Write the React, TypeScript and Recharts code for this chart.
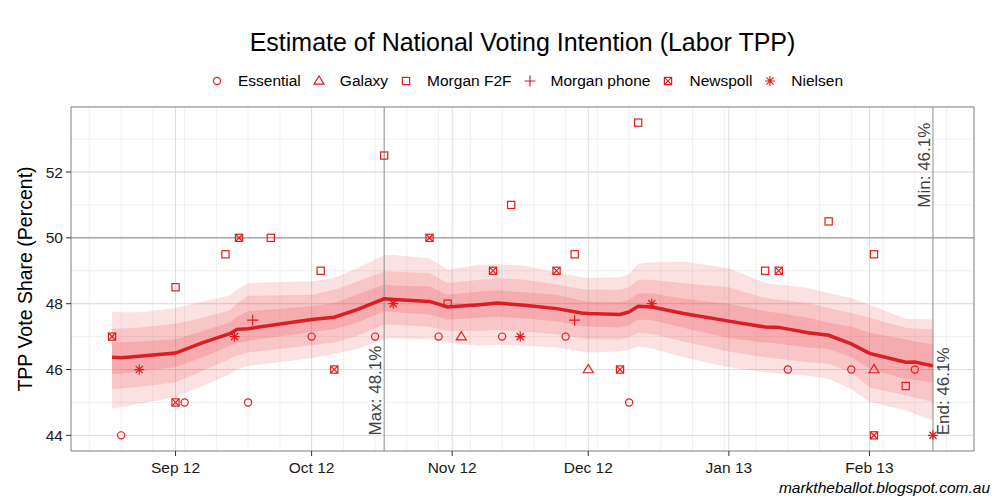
import React from "react";
import {
  Area,
  CartesianGrid,
  ComposedChart,
  Line,
  ReferenceArea,
  ReferenceLine,
  Scatter,
  XAxis,
  YAxis,
} from "recharts";

const FONT = '"Liberation Sans", Arial, Helvetica, sans-serif';
const RED = "#e41a1c";
const LINE_RED = "#d91e25";

// x values are days from 1 Sep 2012
const monthTicks = [0, 30, 61, 91, 122, 153];
const monthLabels = ["Sep 12", "Oct 12", "Nov 12", "Dec 12", "Jan 13", "Feb 13"];
const yTicks = [44, 46, 48, 50, 52];

// trend estimate and its three credible bands
const trendDay = [-14, -12, -8, 0, 6, 12, 13.5, 16, 30, 35, 40, 46, 48, 56, 60, 67, 71, 77, 84, 89.5, 91, 98, 100, 102, 105, 112, 122, 130, 133, 139.5, 144, 149, 153, 161, 163, 167];
const trendMean = [46.37, 46.36, 46.4, 46.5, 46.82, 47.09, 47.22, 47.24, 47.52, 47.59, 47.82, 48.15, 48.13, 48.07, 47.9, 47.97, 48.02, 47.95, 47.85, 47.72, 47.7, 47.67, 47.75, 47.92, 47.9, 47.7, 47.47, 47.29, 47.28, 47.12, 47.04, 46.78, 46.49, 46.22, 46.23, 46.11];
const innerLo = [45.86, 45.88, 45.95, 46.07, 46.37, 46.72, 46.8, 46.87, 47.14, 47.22, 47.42, 47.77, 47.75, 47.67, 47.52, 47.57, 47.6, 47.55, 47.47, 47.32, 47.3, 47.28, 47.35, 47.52, 47.5, 47.27, 46.95, 46.82, 46.78, 46.67, 46.62, 46.37, 46.02, 45.71, 45.68, 45.61];
const innerHi = [46.82, 46.82, 46.85, 46.92, 47.17, 47.43, 47.6, 47.77, 47.92, 48.02, 48.27, 48.58, 48.55, 48.52, 48.27, 48.37, 48.4, 48.35, 48.27, 48.1, 48.07, 48.05, 48.12, 48.32, 48.32, 48.15, 48.0, 47.77, 47.72, 47.57, 47.42, 47.3, 47.12, 46.92, 46.85, 46.77];
const midLo = [45.39, 45.42, 45.48, 45.61, 45.96, 46.32, 46.42, 46.52, 46.74, 46.82, 47.02, 47.37, 47.37, 47.3, 47.17, 47.17, 47.2, 47.15, 47.07, 46.95, 46.92, 46.92, 46.98, 47.12, 47.08, 46.85, 46.55, 46.37, 46.33, 46.22, 46.17, 45.92, 45.46, 45.21, 45.15, 45.01];
const midHi = [47.24, 47.25, 47.28, 47.39, 47.57, 47.8, 48.0, 48.24, 48.27, 48.42, 48.67, 48.98, 48.97, 48.93, 48.63, 48.73, 48.77, 48.73, 48.58, 48.45, 48.43, 48.42, 48.5, 48.73, 48.73, 48.62, 48.5, 48.17, 48.12, 48.02, 47.87, 47.72, 47.57, 47.27, 47.25, 47.22];
const outerLo = [44.81, 44.86, 44.96, 45.16, 45.51, 45.86, 46.0, 46.11, 46.34, 46.47, 46.62, 46.92, 46.95, 46.92, 46.82, 46.72, 46.75, 46.72, 46.67, 46.55, 46.52, 46.55, 46.6, 46.7, 46.65, 46.37, 46.07, 45.92, 45.88, 45.81, 45.71, 45.41, 45.01, 44.76, 44.65, 44.46];
const outerHi = [47.75, 47.74, 47.74, 47.87, 48.07, 48.25, 48.42, 48.63, 48.68, 48.78, 49.08, 49.48, 49.48, 49.38, 49.03, 49.18, 49.2, 49.15, 48.95, 48.8, 48.78, 48.8, 48.9, 49.21, 49.25, 49.28, 49.08, 48.63, 48.58, 48.48, 48.32, 48.17, 47.97, 47.54, 47.53, 47.52];

// polls: [day, TPP]
const essentialPolls = [[-12, 44], [2, 45], [16, 45], [30, 47], [44, 47], [58, 47], [72, 47], [86, 47], [100, 45], [135, 46], [149, 46], [163, 46]];
const galaxyPolls = [[63, 47], [91, 46], [154, 46]];
const morganF2FPolls = [[0, 48.5], [11, 49.5], [21, 50], [32, 49], [46, 52.5], [60, 48], [74, 51], [88, 49.5], [102, 53.5], [130, 49], [144, 50.5], [154, 49.5], [161, 45.5]];
const morganPhonePolls = [[17, 47.5], [88, 47.5]];
const newspollPolls = [[-14, 47], [0, 45], [14, 50], [35, 46], [56, 50], [70, 49], [84, 49], [98, 46], [133, 49], [154, 44]];
const nielsenPolls = [[-8, 46], [13, 47], [48, 48], [76, 47], [105, 48], [167, 44]];

const maxDay = 46;
const endDay = 167;

const X_DOMAIN = [-23.05, 176.05];
const Y_DOMAIN = [43.525, 53.975];

const trend = trendDay.map((d, i) => ({
  day: d,
  mean: trendMean[i],
  inner: [innerLo[i], innerHi[i]],
  mid: [midLo[i], midHi[i]],
  outer: [outerLo[i], outerHi[i]],
}));

const toPoints = (rows: number[][]) => rows.map(([day, tpp]) => ({ day, tpp }));

const pollsters = [
  { name: "Essential", kind: "circle", rows: essentialPolls },
  { name: "Galaxy", kind: "triangle", rows: galaxyPolls },
  { name: "Morgan F2F", kind: "square", rows: morganF2FPolls },
  { name: "Morgan phone", kind: "plus", rows: morganPhonePolls },
  { name: "Newspoll", kind: "squareX", rows: newspollPolls },
  { name: "Nielsen", kind: "asterisk", rows: nielsenPolls },
];

// minor grid: weekly (Mondays) and every half point
const weekLines: number[] = [];
for (let d = -19; d <= 176; d += 7) weekLines.push(d);
const halfLines: number[] = [];
for (let v = 43.5; v <= 54; v += 0.5) halfLines.push(v);

function Marker({ kind, cx, cy }: { kind: string; cx: number; cy: number }) {
  const p = { fill: "none", stroke: RED, strokeWidth: 1.2 };
  if (cx == null || cy == null) return null;
  switch (kind) {
    case "circle":
      return <circle cx={cx} cy={cy} r={3.6} {...p} />;
    case "triangle":
      return <polygon points={`${cx},${cy - 5} ${cx - 5},${cy + 3.2} ${cx + 5},${cy + 3.2}`} {...p} />;
    case "square":
      return <rect x={cx - 3.6} y={cy - 3.6} width={7.2} height={7.2} {...p} />;
    case "plus":
      return <path d={`M${cx - 5.5},${cy}H${cx + 5.5}M${cx},${cy - 5.5}V${cy + 5.5}`} {...p} />;
    case "squareX":
      return (
        <g>
          <rect x={cx - 3.6} y={cy - 3.6} width={7.2} height={7.2} {...p} />
          <path d={`M${cx - 3.6},${cy - 3.6}L${cx + 3.6},${cy + 3.6}M${cx - 3.6},${cy + 3.6}L${cx + 3.6},${cy - 3.6}`} {...p} />
        </g>
      );
    case "asterisk":
      return (
        <path
          d={`M${cx - 5},${cy}H${cx + 5}M${cx},${cy - 5}V${cy + 5}M${cx - 3.6},${cy - 3.6}L${cx + 3.6},${cy + 3.6}M${cx - 3.6},${cy + 3.6}L${cx + 3.6},${cy - 3.6}`}
          {...p}
        />
      );
  }
  return null;
}

const yPix = (vb: any, v: number) =>
  vb.y + ((Y_DOMAIN[1] - v) / (Y_DOMAIN[1] - Y_DOMAIN[0])) * vb.height;

function SideLabel({ viewBox, text, at, anchor, dx }: any) {
  if (!viewBox) return null;
  const x = viewBox.x + dx;
  const y = yPix(viewBox, at);
  return (
    <text
      x={x}
      y={y}
      transform={`rotate(-90 ${x} ${y})`}
      textAnchor={anchor}
      fontFamily={FONT}
      fontSize={17}
      fill="#404040"
    >
      {text}
    </text>
  );
}

export default function App() {
  return (
    <div style={{ position: "absolute", left: 0, top: 0, width: 1000, height: 500, background: "#fff", fontFamily: FONT }}>
      <div style={{ position: "absolute", left: 71, width: 903, top: 28, textAlign: "center", fontSize: 25, lineHeight: "28px", color: "#000" }}>
        Estimate of National Voting Intention (Labor TPP)
      </div>
      <div style={{ position: "absolute", left: 60, width: 940, top: 71, height: 20, display: "flex", justifyContent: "center", alignItems: "center", fontSize: 15.5, color: "#000" }}>
        {pollsters.map((p) => (
          <div key={p.name} style={{ display: "flex", alignItems: "center", marginRight: 9 }}>
            <svg width={18} height={18} style={{ marginRight: 12 }}>
              <Marker kind={p.kind} cx={9} cy={9} />
            </svg>
            <span>{p.name}</span>
          </div>
        ))}
      </div>
      <div
        style={{
          position: "absolute",
          left: 25 - 150,
          top: 279 - 12,
          width: 300,
          height: 24,
          lineHeight: "24px",
          textAlign: "center",
          fontSize: 19.5,
          transform: "rotate(-90deg)",
          color: "#000",
        }}
      >
        TPP Vote Share (Percent)
      </div>
      <div style={{ position: "absolute", right: 10, top: 479, fontSize: 15.5, fontStyle: "italic", color: "#000" }}>
        marktheballot.blogspot.com.au
      </div>
      <div style={{ position: "absolute", left: 0, top: 0 }}>
        <ComposedChart width={1000} height={500} data={trend} margin={{ top: 107, right: 26, bottom: 19, left: 0 }}>
          <CartesianGrid horizontalValues={halfLines} verticalValues={weekLines} stroke="#f1f1f1" strokeWidth={1} />
          <CartesianGrid horizontalValues={yTicks} verticalValues={monthTicks} stroke="#dddddd" strokeWidth={1} />
          <XAxis
            dataKey="day"
            type="number"
            domain={X_DOMAIN}
            allowDataOverflow
            ticks={monthTicks}
            tickFormatter={(v) => monthLabels[monthTicks.indexOf(v)] ?? ""}
            height={30}
            axisLine={false}
            tickLine={{ stroke: "#333" }}
            tickSize={5}
            tickMargin={6}
            tick={{ fill: "#1a1a1a", fontSize: 15.5, fontFamily: FONT }}
          />
          <YAxis
            type="number"
            domain={Y_DOMAIN}
            allowDataOverflow
            ticks={yTicks}
            width={71}
            axisLine={false}
            tickLine={{ stroke: "#333" }}
            tickSize={5}
            tickMargin={3}
            tick={{ fill: "#1a1a1a", fontSize: 15.5, fontFamily: FONT }}
          />
          <Area type="linear" dataKey="outer" stroke="none" fill={RED} fillOpacity={0.13} isAnimationActive={false} />
          <Area type="linear" dataKey="mid" stroke="none" fill={RED} fillOpacity={0.13} isAnimationActive={false} />
          <Area type="linear" dataKey="inner" stroke="none" fill={RED} fillOpacity={0.15} isAnimationActive={false} />
          <ReferenceLine y={50} stroke="#8c8c8c" strokeWidth={1} />
          <ReferenceLine
            x={maxDay}
            stroke="#8c8c8c"
            strokeWidth={1}
            label={(props: any) => <SideLabel viewBox={props.viewBox} text="Max: 48.1%" at={44} anchor="start" dx={-3} />}
          />
          <ReferenceLine
            x={endDay}
            stroke="#8c8c8c"
            strokeWidth={1}
            label={(props: any) => (
              <g>
                <SideLabel viewBox={props.viewBox} text="Min: 46.1%" at={53.5} anchor="end" dx={-3} />
                <SideLabel viewBox={props.viewBox} text="End: 46.1%" at={44} anchor="start" dx={16} />
              </g>
            )}
          />
          <Line type="linear" dataKey="mean" stroke={LINE_RED} strokeWidth={3.5} dot={false} isAnimationActive={false} />
          {pollsters.map((p) => (
            <Scatter
              key={p.name}
              name={p.name}
              data={toPoints(p.rows)}
              dataKey="tpp"
              isAnimationActive={false}
              shape={(s: any) => <Marker kind={p.kind} cx={s.cx} cy={s.cy} />}
            />
          ))}
          <ReferenceArea
            x1={X_DOMAIN[0]}
            x2={X_DOMAIN[1]}
            y1={Y_DOMAIN[0]}
            y2={Y_DOMAIN[1]}
            fill="none"
            fillOpacity={0}
            stroke="#7f7f7f"
            strokeWidth={1}
          />
        </ComposedChart>
      </div>
    </div>
  );
}
